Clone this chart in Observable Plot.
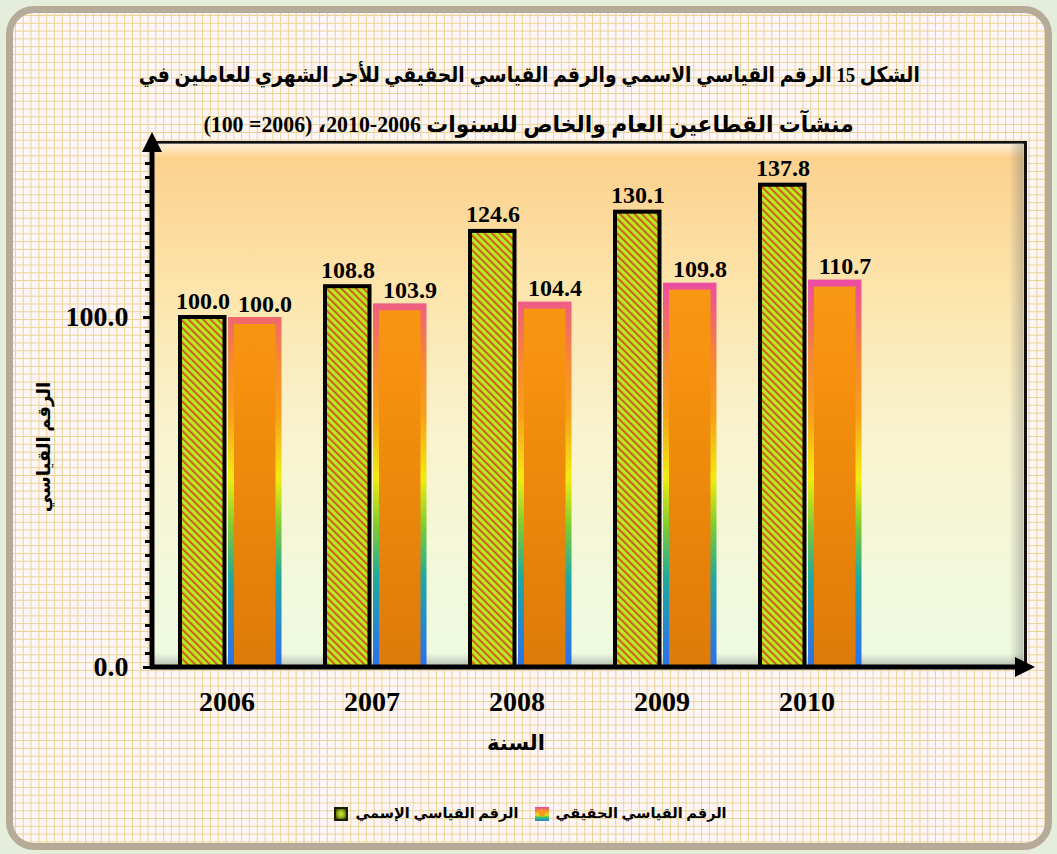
<!DOCTYPE html>
<html>
<head>
<meta charset="utf-8">
<script src="https://cdn.jsdelivr.net/npm/d3@7"></script>
<script src="https://cdn.jsdelivr.net/npm/@observablehq/plot@0.6"></script>
<style>
  html, body { margin: 0; padding: 0; background: #e5eddb; }
  #page { position: relative; width: 1057px; height: 854px; overflow: hidden; background: #e5eddb; }
  #paper {
    position: absolute; left: 6px; top: 6px; width: 1046px; height: 844px; box-sizing: border-box;
    border: 7px solid #b6ab99; border-radius: 28px;
    background-color: #fdf5f7;
    background-image: linear-gradient(#e9d493 1px, transparent 1px), linear-gradient(90deg, #e9d493 1px, transparent 1px);
    background-size: 7.8px 7.8px; background-position: 2px 2px;
  }
  .ar { font-family: "Liberation Serif", "DejaVu Sans", serif; font-weight: bold; color: #000; }
  #title { position: absolute; left: 0; top: 50px; width: 1057px; text-align: center; direction: rtl; line-height: 50px; }
  #title .l1 { font-size: 21.5px; transform: scaleX(0.87); transform-origin: 534px 50%; }
  #title .l2 { font-size: 23px; transform: scaleX(0.95); transform-origin: 530px 50%; }
  #chart { position: absolute; left: 0; top: 0; }
  #xtitle { position: absolute; left: 416px; top: 731px; width: 200px; text-align: center; direction: rtl; font-size: 21px; }
  #ytitle { position: absolute; left: 44px; top: 447px; transform: translate(-50%, -50%) rotate(-90deg); white-space: nowrap; direction: rtl; font-size: 18px; }
  #legend { position: absolute; left: 0; top: 805px; width: 1057px; display: flex; justify-content: center; align-items: center; direction: ltr; font-size: 14.5px; padding-left: 4px; box-sizing: border-box; }
  #legend .item { display: flex; align-items: center; margin: 0 8px; }
  #legend .sw { width: 14px; height: 14px; margin-right: 7px; box-sizing: border-box; }
  #legend .txt { direction: rtl; }
</style>
</head>
<body>
<div id="page">
  <div id="paper"></div>
  <div id="title" class="ar"></div>
  <div id="chart"></div>
  <div id="xtitle" class="ar"></div>
  <div id="ytitle" class="ar"></div>
  <div id="legend" class="ar"></div>
</div>
<script>
// ---------- data ----------
const years = ["2006", "2007", "2008", "2009", "2010"];
const nominalIndex = [100.0, 108.8, 124.6, 130.1, 137.8];
const realIndex = [100.0, 103.9, 104.4, 109.8, 110.7];
const seriesNames = ["الرقم القياسي الإسمي", "الرقم القياسي الحقيقي"];
const yTicks = [0, 100];
const minorTicks = d3.range(0, 150, 4);
const titleLines = [
  "الشكل 15 الرقم القياسي الاسمي والرقم القياسي الحقيقي للأجر الشهري للعاملين في",
  "منشآت القطاعين العام والخاص للسنوات 2006\u200F-2010، (2006= 100)"
];
const xTitle = "السنة";
const yTitle = "الرقم القياسي";

const rows = years.map((year, i) => ({year, nominal: nominalIndex[i], real: realIndex[i]}));

// ---------- texts ----------
document.getElementById("title").innerHTML = titleLines.map((t, i) => `<div class="l${i + 1}">${t}</div>`).join("");
document.getElementById("xtitle").textContent = xTitle;
document.getElementById("ytitle").textContent = yTitle;
document.getElementById("legend").innerHTML = `
  <div class="item"><div class="sw" style="border:2px solid #1a1a00;background:radial-gradient(circle,#d8e83a 0%,#9ab818 45%,#2a3000 100%)"></div><span class="txt">${seriesNames[0]}</span></div>
  <div class="item"><div class="sw" style="background:radial-gradient(circle at 50% 40%,#f7941d 0%,#f59a1a 30%,transparent 31%),linear-gradient(#e8489a,#f5a020 35%,#f0e020 55%,#40c060 75%,#2080e0)"></div><span class="txt">${seriesNames[1]}</span></div>`;

// ---------- chart ----------
const W = 1057, H = 854;
const mL = 152, mR = 32, mT = 142, mB = 187;

const chart = Plot.plot({
  width: W, height: H,
  marginLeft: mL, marginRight: mR, marginTop: mT, marginBottom: mB,
  style: {background: "transparent", fontFamily: "'Liberation Serif', 'DejaVu Sans', serif", color: "#000", overflow: "visible"},
  x: {type: "band", domain: [...years, ""], padding: 0},
  y: {domain: [0, 150]},
  marks: [
    Plot.frame({fill: "url(#plotBg)", stroke: "#111", strokeWidth: 3}),
    // nominal index bars (striped)
    Plot.barY(rows, {x: "year", y: "nominal", fill: "url(#stripes)", stroke: "#000", strokeWidth: 4, insetLeft: 26, insetRight: 74.5}),
    // real index bars: coloured bevel edge + orange face
    Plot.barY(rows, {x: "year", y: "real", fill: "url(#edgeGrad)", insetLeft: 74, insetRight: 17.5}),
    Plot.barY(rows, {x: "year", y: "real", fill: "url(#faceGrad)", insetLeft: 80, insetRight: 23.5, insetTop: 7}),
    // value labels
    Plot.text(rows, {x: "year", y: "nominal", text: d => d.nominal.toFixed(1), dx: -24, dy: -9, lineAnchor: "bottom", fontSize: 24, fontWeight: "bold"}),
    Plot.text(rows, {x: "year", y: "real", text: d => d.real.toFixed(1), dx: 38, dy: -6, lineAnchor: "bottom", fontSize: 24, fontWeight: "bold"}),
    // axes
    Plot.axisY({ticks: minorTicks, tickFormat: () => "", tickSize: 7, strokeWidth: 3, label: null}),
    Plot.axisY({ticks: yTicks, tickFormat: d => d.toFixed(1), tickSize: 9, tickPadding: 15, strokeWidth: 3, fontSize: 28, fontWeight: "bold", label: null}),
    Plot.axisX({ticks: years, tickSize: 0, tickPadding: 24, fontSize: 28, fontWeight: "bold", label: null})
  ]
});
document.getElementById("chart").appendChild(chart);

// ---------- decorations: gradients, pattern, bevel, axis arrows ----------
const svg = d3.select(chart);
const ys = chart.scale("y");
const y0 = ys.apply(0), yTop = ys.apply(150);
const xL = mL, xR = W - mR;
const defs = svg.insert("defs", ":first-child");

function linGrad(id, x1, y1, x2, y2, stops) {
  const g = defs.append("linearGradient").attr("id", id).attr("gradientUnits", "userSpaceOnUse")
    .attr("x1", x1).attr("y1", y1).attr("x2", x2).attr("y2", y2);
  stops.forEach(([o, c, a]) => g.append("stop").attr("offset", o).attr("stop-color", c).attr("stop-opacity", a == null ? 1 : a));
}
linGrad("plotBg", 0, yTop, 0, y0, [[0, "#fccf8a"], [0.3, "#fce6ae"], [0.55, "#f9f3cf"], [1, "#eefbe2"]]);
linGrad("edgeGrad", 0, yTop, 0, y0, [[0, "#e8409c"], [0.27, "#ec4fa0"], [0.42, "#f58a30"], [0.52, "#f7a01a"], [0.64, "#f2ec10"], [0.73, "#80cc30"], [0.83, "#20a8a0"], [0.96, "#2a7ae0"], [1, "#2a70e8"]]);
linGrad("faceGrad", 0, yTop, 0, y0, [[0, "#fba21c"], [0.4, "#f7930e"], [1, "#de7a08"]]);
linGrad("shadeR", xR - 16, 0, xR, 0, [[0, "#707070", 0], [1, "#707070", 0.45]]);
linGrad("shadeB", 0, y0 - 14, 0, y0, [[0, "#707070", 0], [1, "#707070", 0.45]]);
linGrad("shadeT", 0, yTop, 0, yTop + 16, [[0, "#ffffff", 0.75], [1, "#ffffff", 0]]);

const pat = defs.append("pattern").attr("id", "stripes").attr("patternUnits", "userSpaceOnUse")
  .attr("width", 5.2).attr("height", 5.2).attr("patternTransform", "rotate(-45)");
pat.append("rect").attr("width", 5.2).attr("height", 5.2).attr("fill", "#b8ec22");
pat.append("rect").attr("width", 2).attr("height", 5.2).attr("fill", "#d05a20");

const marker = defs.append("marker").attr("id", "arrowHead").attr("viewBox", "0 0 10 10")
  .attr("refX", 2).attr("refY", 5).attr("markerWidth", 4).attr("markerHeight", 4)
  .attr("markerUnits", "strokeWidth").attr("orient", "auto");
marker.append("path").attr("d", "M0,0L10,5L0,10Z").attr("fill", "#000");

// bevel shading just above the frame background
const frameNode = chart.querySelector('[aria-label="frame"]');
const bevel = document.createElementNS("http://www.w3.org/2000/svg", "g");
frameNode.parentNode.insertBefore(bevel, frameNode.nextSibling);
const bv = d3.select(bevel);
bv.append("rect").attr("x", xL).attr("y", yTop + 1.5).attr("width", xR - xL - 1.5).attr("height", 16).attr("fill", "url(#shadeT)");
bv.append("rect").attr("x", xR - 16).attr("y", yTop + 1.5).attr("width", 14.5).attr("height", y0 - yTop - 1.5).attr("fill", "url(#shadeR)");
bv.append("rect").attr("x", xL).attr("y", y0 - 14).attr("width", xR - xL - 1.5).attr("height", 14).attr("fill", "url(#shadeB)");

// axis lines with arrow heads
const ax = svg.append("g").attr("stroke", "#000").attr("stroke-width", 5).attr("fill", "none");
ax.append("line").attr("x1", xL - 2).attr("y1", y0).attr("x2", xR - 6).attr("y2", y0).attr("marker-end", "url(#arrowHead)");
ax.append("line").attr("x1", xL).attr("y1", y0 + 2).attr("x2", xL).attr("y2", yTop + 6).attr("marker-end", "url(#arrowHead)");
</script>
</body>
</html>
